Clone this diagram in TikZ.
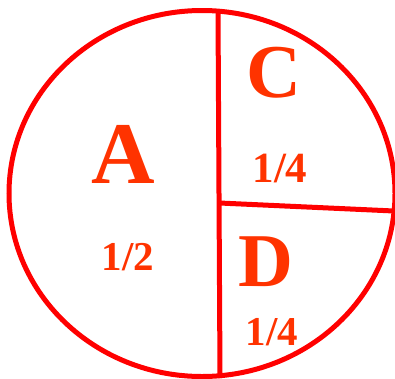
\documentclass[tikz,border=0pt]{standalone}
\usepackage{fontspec}
\setmainfont{Liberation Serif}
\usepackage{tikz}
\definecolor{rimred}{HTML}{FF0000}
\definecolor{labelred}{HTML}{FF3300}

\begin{document}
\begin{tikzpicture}[x=1pt,y=-1pt]

\tikzset{part/.style = {text=labelred,font=\bfseries,inner sep=0pt,anchor=base}}
\tikzset{every path/.style = {draw=rimred,line width=5pt}}
\useasboundingbox[draw=none] (0,0) rectangle (395,378);
% circle
\path (202,193.5) ellipse [x radius=193, y radius=183];
\coordinate (top) at (218,10.5);
\coordinate (bot) at (220,378);
\coordinate (mid) at (219.5,203);
\coordinate (rim) at (394,211);

%lines
\path (top) -- (bot);
\path (mid) -- (rim);

% labels
\node[part,font=\fontsize{88}{88}\bfseries] (a) at (123,183) {A};
\node[part,font=\fontsize{41}{41}\bfseries] (ahalf) at (128,270) {1/2};
\node[part,font=\fontsize{76}{76}\bfseries] (c) at (274,97) {C};
\node[part,font=\fontsize{43}{43}\bfseries] (cquart) at (280,182) {1/4};
\node[part,font=\fontsize{76}{76}\bfseries] (d) at (266,286) {D};
\node[part,font=\fontsize{41}{41}\bfseries] (dquart) at (272,345) {1/4};

\end{tikzpicture}
\end{document}
